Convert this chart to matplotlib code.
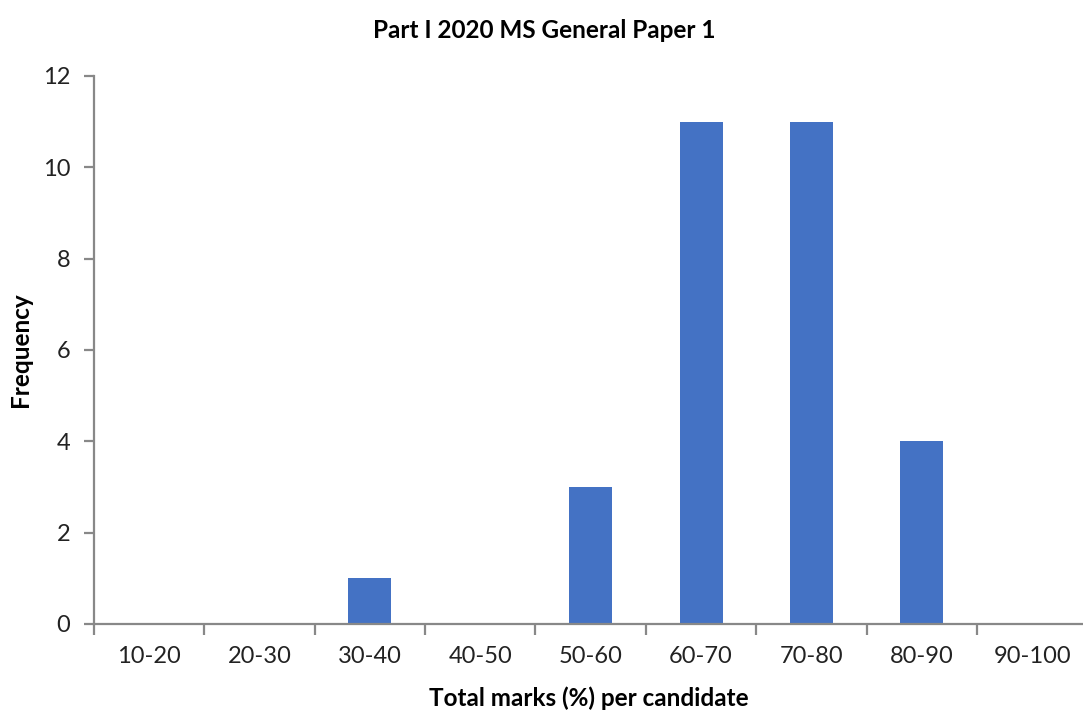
import numpy as np
import matplotlib
matplotlib.use('Agg')
import matplotlib.pyplot as plt

# marks distribution
bands = ['10-20', '20-30', '30-40', '40-50', '50-60', '60-70', '70-80', '80-90', '90-100']
counts = [0, 0, 1, 0, 3, 11, 11, 4, 0]

plt.rcParams['font.family'] = ['Lato', 'DejaVu Sans']

fig = plt.figure(figsize=(10.83, 7.13), dpi=100)
ax = fig.add_axes([94/1083, 1 - 624/713, (1083 - 94)/1083 + 0.004, (624 - 76)/713])

x = np.arange(len(bands))
ax.bar(x, counts, width=0.39, color='#4472C4')

ax.set_xlim(-0.5, len(bands) - 0.5)
ax.set_ylim(0, 12)
ax.set_yticks(range(0, 13, 2))
ax.set_xticks(x)
ax.set_xticklabels(bands)
# ticks sit on the category boundaries
ax.set_xticks(np.arange(len(bands)) - 0.5, minor=True)
ax.tick_params(axis='x', which='major', length=0, pad=16, labelsize=17, labelcolor='#222222')
ax.tick_params(axis='x', which='minor', length=8, width=1.6, color='#888888', direction='out')
ax.tick_params(axis='y', length=7, width=1.6, color='#888888', pad=10, labelsize=17, labelcolor='#222222')

for s in ['top', 'right']:
    ax.spines[s].set_visible(False)
for s in ['left', 'bottom']:
    ax.spines[s].set_color('#888888')
    ax.spines[s].set_linewidth(1.6)

fig.text(0.5 + 94/1083/2, 1 - 698/713, 'Total marks (%) per candidate', ha='center', va='center',
         fontsize=17.5, fontweight='bold')
fig.text(20/1083, 1 - 350/713, 'Frequency', rotation=90, ha='center', va='center',
         fontsize=17.5, fontweight='bold')
fig.text(544/1083, 1 - 30/713, 'Part I 2020 MS General Paper 1', ha='center', va='center',
         fontsize=17.5, fontweight='bold')

fig.savefig('out.png', dpi=100)
